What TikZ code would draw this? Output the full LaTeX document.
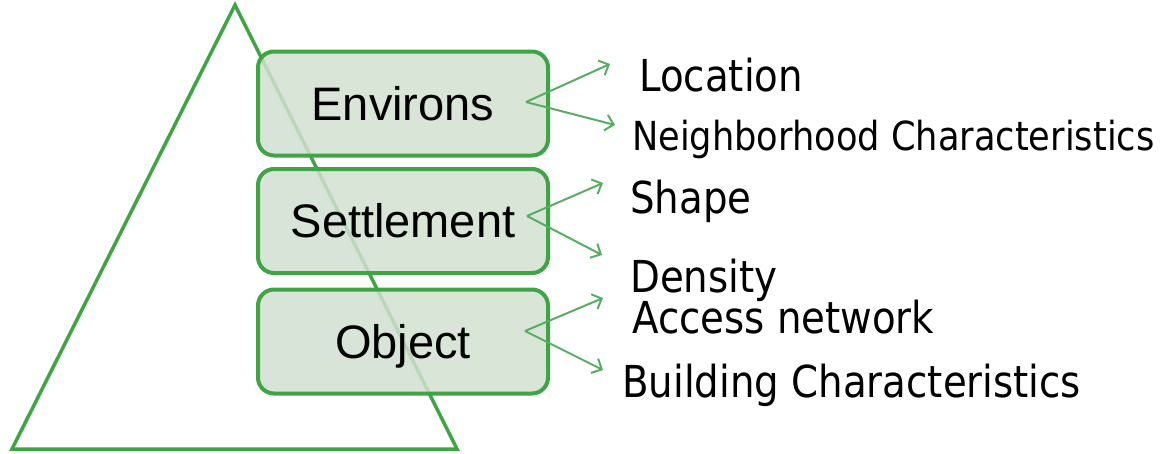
\documentclass[tikz,border=0pt]{standalone}
\usepackage{fontspec}
\setmainfont{Liberation Sans}
\newfontfamily\tagfont[FakeStretch=0.88]{DejaVu Sans}
\usetikzlibrary{arrows.meta}

\definecolor{pyrgreen}{RGB}{62,164,68}
\definecolor{boxfill}{RGB}{210,224,208}
\definecolor{arrowgreen}{RGB}{88,174,96}

\begin{document}
\begin{tikzpicture}[x=1pt,y=-1pt,
  pyramid/.style={draw=pyrgreen, line width=3.5pt, line join=miter, fill=white},
  levelbox/.style={draw=pyrgreen, line width=4pt, rounded corners=16pt,
    fill=boxfill, fill opacity=0.85, text opacity=1,
    minimum width=290pt, minimum height=104pt, inner sep=0pt,
    text height=33.7pt, text depth=0pt,
    font=\fontsize{47}{50}\selectfont},
  branch/.style={draw=arrowgreen, line width=2pt,
    -{Straight Barb[length=8pt,width=16pt,line width=2pt]}},
  tag/.style={anchor=base west, inner sep=0pt, text=black},
  bigtag/.style={tag, font=\tagfont\fontsize{44}{48}\selectfont},
  smalltag/.style={tag, font=\tagfont\fontsize{40}{44}\selectfont}]

\useasboundingbox (0,0) rectangle (1164,453);

% pyramid outline
\coordinate (apex) at (235,5);
\coordinate (baseR) at (457,449);
\coordinate (baseL) at (12,449);
\draw[pyramid] (apex) -- (baseR) -- (baseL) -- cycle;

% the three levels
\node[levelbox] (env) at (403,103.5) {Environs};
\node[levelbox] (set) at (403,221) {Settlement};
\node[levelbox] (obj) at (403,341.5) {Object};

% fan-out points inside each level
\coordinate (envO) at (526,102);
\coordinate (setO) at (527,216);
\coordinate (objO) at (525,331);

\coordinate (envA) at (610,64);
\coordinate (envB) at (615,125);
\coordinate (setA) at (603,183);
\coordinate (setB) at (602,255);
\coordinate (objA) at (603,298);
\coordinate (objB) at (603,370);

\draw[branch] (envO) -- (envA);
\draw[branch] (envO) -- (envB);
\draw[branch] (setO) -- (setA);
\draw[branch] (setO) -- (setB);
\draw[branch] (objO) -- (objA);
\draw[branch] (objO) -- (objB);

% attribute labels
\node[bigtag] (loc) at (639,91) {Location};
\node[smalltag] (nbh) at (632,150) {Neighborhood Characteristics};
\node[bigtag] (shp) at (630,213) {Shape};
\node[bigtag] (den) at (630,292) {Density};
\node[bigtag] (acc) at (632,333) {Access network};
\node[bigtag] (bld) at (622,397) {Building Characteristics};

\end{tikzpicture}
\end{document}
